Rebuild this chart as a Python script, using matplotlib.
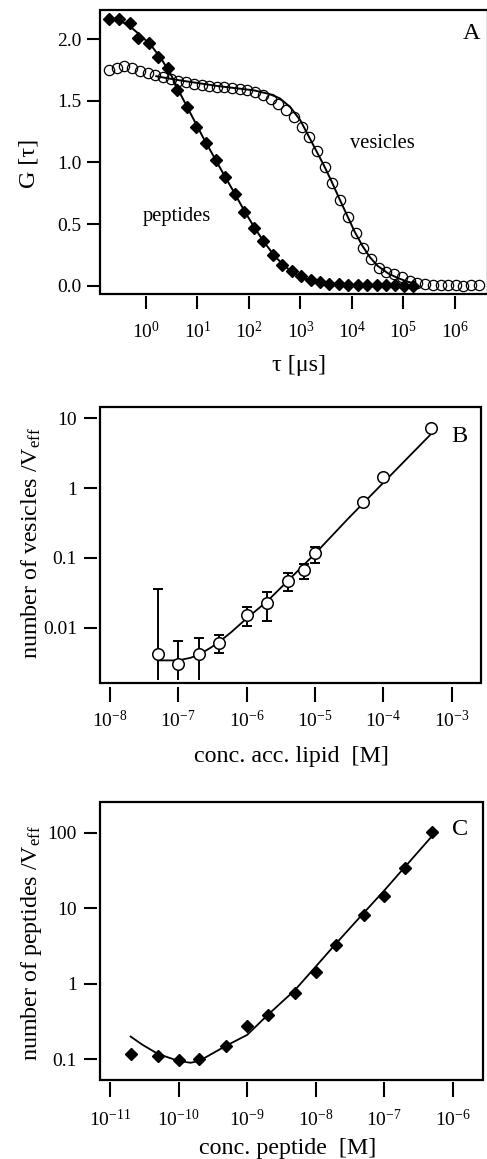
import numpy as np
import matplotlib
matplotlib.use("Agg")
import matplotlib.pyplot as plt
from matplotlib.patches import Rectangle
from matplotlib.ticker import NullLocator

plt.rcParams['font.family'] = ['Liberation Serif', 'DejaVu Serif']
plt.rcParams['mathtext.fontset'] = 'custom'
plt.rcParams['mathtext.rm'] = 'Liberation Serif'
plt.rcParams['mathtext.it'] = 'Liberation Serif:italic'
plt.rcParams['mathtext.default'] = 'regular'

# ---- panel A: correlation curves (log10 tau in us, G) ----
pep_logtau = [-0.72, -0.52, -0.31, -0.15, 0.05, 0.23, 0.42, 0.60, 0.79, 0.98, 1.16,
              1.35, 1.53, 1.73, 1.91, 2.09, 2.28, 2.46, 2.64, 2.83, 3.01, 3.20,
              3.38, 3.56, 3.74, 3.92, 4.11, 4.30, 4.48, 4.66, 4.83, 5.01, 5.18]
pep_G = [2.165, 2.165, 2.13, 2.01, 1.97, 1.86, 1.765, 1.59, 1.448, 1.288, 1.156,
         1.021, 0.885, 0.745, 0.60, 0.466, 0.363, 0.249, 0.17, 0.119, 0.079, 0.046,
         0.028, 0.015, 0.010, 0.005, 0.005, 0.005, 0.004, 0.004, 0.002, 0.0, -0.002]

ves_logtau = [-0.72, -0.57, -0.42, -0.27, -0.12, 0.03, 0.18, 0.33, 0.48, 0.63,
              0.78, 0.93, 1.08, 1.22, 1.37, 1.52, 1.67, 1.82, 1.97, 2.12,
              2.27, 2.42, 2.57, 2.72, 2.87, 3.02, 3.17, 3.32, 3.47, 3.62,
              3.77, 3.92, 4.07, 4.22, 4.37, 4.52, 4.67, 4.82, 4.97, 5.12,
              5.27, 5.42, 5.57, 5.72, 5.87, 6.01, 6.16, 6.31, 6.46]
ves_G = [1.75, 1.765, 1.78, 1.765, 1.745, 1.73, 1.71, 1.69, 1.675, 1.66,
         1.65, 1.637, 1.629, 1.62, 1.615, 1.61, 1.602, 1.597, 1.588, 1.575,
         1.548, 1.515, 1.475, 1.426, 1.37, 1.288, 1.207, 1.093, 0.963, 0.834,
         0.696, 0.558, 0.428, 0.306, 0.217, 0.144, 0.111, 0.095, 0.071, 0.038,
         0.018, 0.010, 0.006, 0.003, 0.002, 0.002, 0.001, 0.002, 0.002]

pep_fit_logtau = [-0.72, -0.5, -0.3, -0.1, 0.1, 0.3, 0.5, 0.7, 0.9, 1.1, 1.3, 1.5, 1.7,
                  1.9, 2.1, 2.3, 2.5, 2.7, 2.9, 3.1, 3.3, 3.6, 4.0, 4.5, 5.0]
pep_fit_G = [2.18, 2.15, 2.10, 2.03, 1.95, 1.84, 1.70, 1.53, 1.37, 1.21, 1.06, 0.91, 0.765,
             0.615, 0.475, 0.35, 0.24, 0.155, 0.095, 0.055, 0.03, 0.012, 0.004, 0.001, 0.0]

ves_fit_logtau = [0.2, 0.6, 1.0, 1.4, 1.8, 2.1, 2.4, 2.6, 2.8, 3.0, 3.15, 3.3, 3.45, 3.6,
                  3.75, 3.9, 4.05, 4.2, 4.35, 4.5, 4.7, 4.9, 5.1, 5.2]
ves_fit_G = [1.70, 1.67, 1.645, 1.62, 1.60, 1.585, 1.555, 1.52, 1.45, 1.34, 1.22, 1.10, 0.98,
             0.85, 0.71, 0.575, 0.44, 0.325, 0.23, 0.16, 0.10, 0.06, 0.03, 0.02]

tauA_ticks = [1e0, 1e1, 1e2, 1e3, 1e4, 1e5, 1e6]

# ---- panel B: vesicles vs lipid concentration ----
lip_conc = [5e-8, 1e-7, 2e-7, 4e-7, 1e-6, 2e-6, 4e-6, 7e-6, 1e-5, 5e-5, 1e-4, 5e-4]
ves_num = [0.0042, 0.0030, 0.0042, 0.0061, 0.0152, 0.0224, 0.0468, 0.0676, 0.116, 0.64, 1.44, 7.3]
ves_hi = [0.0358, 0.0065, 0.0072, 0.0079, 0.020, 0.0328, 0.060, 0.082, 0.145, 0.64, 1.44, 7.3]
ves_lo = [0.0018, 0.0018, 0.0018, 0.0044, 0.0107, 0.0125, 0.034, 0.050, 0.0836, 0.64, 1.44, 7.3]
lip_fit_x = [5e-8, 1e-7, 1.5e-7, 2e-7, 3e-7, 4e-7, 6e-7, 1e-6, 2e-6, 4e-6, 1e-5, 3e-5, 1e-4, 5e-4]
lip_fit_y = [0.0034, 0.0034, 0.0037, 0.0041, 0.0052, 0.0063, 0.0087, 0.0136, 0.024, 0.047,
             0.115, 0.36, 1.2, 6.0]
lipB_ticks = [1e-8, 1e-7, 1e-6, 1e-5, 1e-4, 1e-3]

# ---- panel C: peptides vs peptide concentration ----
pep_conc = [2e-11, 5e-11, 1e-10, 2e-10, 5e-10, 1e-9, 2e-9, 5e-9, 1e-8, 2e-8, 5e-8, 1e-7, 2e-7, 5e-7]
pep_num = [0.117, 0.112, 0.098, 0.100, 0.150, 0.277, 0.384, 0.75, 1.41, 3.23, 8.1, 14.3, 33.6, 102]
pep_fit_x = [2e-11, 3e-11, 5e-11, 1e-10, 1.5e-10, 2e-10, 5e-10, 1e-9, 2e-9, 5e-9, 1e-8, 2e-8,
             5e-8, 1e-7, 2e-7, 5.8e-7]
pep_fit_y = [0.20, 0.155, 0.118, 0.095, 0.090, 0.095, 0.152, 0.21, 0.386, 0.826, 1.68, 3.43,
             8.6, 17.1, 35, 105]
pepC_ticks = [1e-11, 1e-10, 1e-9, 1e-8, 1e-7, 1e-6]

W, H = 487, 1159
fig = plt.figure(figsize=(W / 100, H / 100), dpi=100)


def make_axes(l, t, r, b):
    ax = fig.add_axes([l / W, 1 - b / H, (r - l) / W, (b - t) / H])
    for s in ax.spines.values():
        s.set_visible(False)
    ax.add_patch(Rectangle((0, 0), 1, 1, transform=ax.transAxes, fill=False,
                           ec='black', lw=1.6, clip_on=False, zorder=2.5))
    ax.tick_params(top=False, right=False, direction='out', width=1.5,
                   labelsize=14, colors='black')
    return ax


def decade_labels(ticks):
    return ['$10^{%d}$' % round(np.log10(t)) for t in ticks]


def log_xaxis(ax, ticks):
    ax.set_xscale('log')
    ax.set_xticks(ticks, decade_labels(ticks))
    ax.xaxis.set_minor_locator(NullLocator())


# ---------------- A ----------------
axA = make_axes(100, 10.3, 488, 294.3)
log_xaxis(axA, tauA_ticks)
axA.plot(10 ** np.array(ves_fit_logtau), ves_fit_G, color='black', lw=1.4, zorder=4)
axA.plot(10 ** np.array(ves_logtau), ves_G, 'o', ms=7.4, mfc='none', mec='black', mew=0.9, zorder=3)
axA.plot(10 ** np.array(pep_fit_logtau), pep_fit_G, color='black', lw=1.4, zorder=5)
axA.plot(10 ** np.array(pep_logtau), pep_G, 'D', ms=5.8, color='black', zorder=5)
axA.set_xlim(10 ** -0.893, 10 ** 6.641)
axA.set_ylim(-0.070, 2.235)
axA.set_yticks([0.0, 0.5, 1.0, 1.5, 2.0], ['0.0', '0.5', '1.0', '1.5', '2.0'])
axA.spines['bottom'].set_position(('outward', 1.5))
axA.tick_params(axis='x', length=9.6, pad=8)
axA.tick_params(axis='y', length=9.2, pad=4)
axA.text(0.729, (294.3 - 148.3) / 284, 'vesicles', transform=axA.transAxes,
         ha='center', va='baseline', fontsize=14.8)
axA.text(0.198, (294.3 - 221) / 284, 'peptides', transform=axA.transAxes,
         ha='center', va='baseline', fontsize=14.8)
axA.text(0.958, (294.3 - 39.3) / 284, 'A', transform=axA.transAxes,
         ha='center', va='baseline', fontsize=17.5)
fig.text(29 / W, 1 - 163.5 / H, 'G [τ]', rotation=90, ha='center', va='center', fontsize=17.3)
fig.text(299 / W, 1 - 371 / H, 'τ [μs]', ha='center', va='baseline', fontsize=17.3)

# ---------------- B ----------------
axB = make_axes(100, 406.7, 481, 683.3)
log_xaxis(axB, lipB_ticks)
axB.set_yscale('log')
axB.plot(lip_fit_x, lip_fit_y, color='black', lw=1.3, zorder=3)
y = np.array(ves_num)
hi = np.array(ves_hi)
lo = np.array(ves_lo)
axB.errorbar(lip_conc, y, yerr=[np.zeros_like(y), hi - y], fmt='none', ecolor='black',
             elinewidth=1.4, capsize=3.85, capthick=1.4, zorder=3.5)
axB.errorbar(lip_conc[3:], y[3:], yerr=[y[3:] - lo[3:], np.zeros_like(y[3:])], fmt='none',
             ecolor='black', elinewidth=1.4, capsize=3.85, capthick=1.4, zorder=3.5)
axB.errorbar(lip_conc[:3], y[:3], yerr=[y[:3] - lo[:3], np.zeros(3)], fmt='none',
             ecolor='black', elinewidth=1.4, capsize=0, zorder=3.5)
axB.plot(lip_conc, ves_num, 'o', ms=8.3, mfc='white', mec='black', mew=1.1, zorder=4)
axB.set_xlim(10 ** -8.146, 10 ** -2.571)
axB.set_ylim(10 ** -2.797, 10 ** 1.169)
axB.set_yticks([0.01, 0.1, 1, 10], ['0.01', '0.1', '1', '10'])
axB.yaxis.set_minor_locator(NullLocator())
axB.spines['bottom'].set_position(('outward', 2.4))
axB.spines['left'].set_position(('outward', 2.4))
axB.tick_params(axis='x', length=10.8, pad=6.3)
axB.tick_params(axis='y', length=9.6, pad=4.5)
axB.text(0.942, (683.3 - 441.7) / 276.6, 'B', transform=axB.transAxes,
         ha='center', va='baseline', fontsize=17.5)
fig.text(31 / W, 1 - 543 / H, 'number of vesicles /V$_{\\mathrm{eff}}$', rotation=90,
         ha='center', va='center', fontsize=17.3)
fig.text(291 / W, 1 - 762 / H, 'conc. acc. lipid  [M]', ha='center', va='baseline', fontsize=17.3)

# ---------------- C ----------------
axC = make_axes(100, 801.7, 483.3, 1080)
log_xaxis(axC, pepC_ticks)
axC.set_yscale('log')
axC.plot(pep_fit_x, pep_fit_y, color='black', lw=1.3, zorder=3)
axC.plot(pep_conc, pep_num, 'D', ms=6.1, color='black', zorder=4)
axC.set_xlim(10 ** -11.146, 10 ** -5.553)
axC.set_ylim(10 ** -1.274, 10 ** 2.41)
axC.set_yticks([0.1, 1, 10, 100], ['0.1', '1', '10', '100'])
axC.yaxis.set_minor_locator(NullLocator())
axC.spines['bottom'].set_position(('outward', 1.2))
axC.spines['left'].set_position(('outward', 2.4))
axC.tick_params(axis='x', length=10.8, pad=9)
axC.tick_params(axis='y', length=9.6, pad=4.5)
axC.text(0.939, (1080 - 835) / 278.3, 'C', transform=axC.transAxes,
         ha='center', va='baseline', fontsize=17.5)
fig.text(32 / W, 1 - 943 / H, 'number of peptides /V$_{\\mathrm{eff}}$', rotation=90,
         ha='center', va='center', fontsize=17.3)
fig.text(287.5 / W, 1 - 1154 / H, 'conc. peptide  [M]', ha='center', va='baseline', fontsize=17.3)

fig.savefig('out.png', dpi=100)
